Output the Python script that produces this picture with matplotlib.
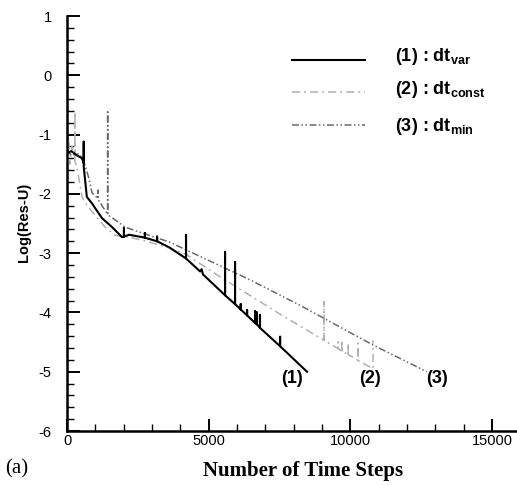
import matplotlib
matplotlib.use("Agg")
import matplotlib.pyplot as plt
from matplotlib.lines import Line2D
from matplotlib.ticker import MultipleLocator

plt.rcParams["font.family"] = ["Liberation Sans", "DejaVu Sans"]
plt.rcParams["mathtext.fontset"] = "custom"
plt.rcParams["mathtext.rm"] = "Liberation Sans:bold"
plt.rcParams["mathtext.bf"] = "Liberation Sans:bold"
plt.rcParams["mathtext.default"] = "rm"
plt.rcParams["lines.scale_dashes"] = False
plt.rcParams["axes.unicode_minus"] = False

# --- data (spikes given as base/top/base triples) ---
steps_var = [0, 150, 350, 530, 590, 590, 590, 700, 880, 1235, 1590, 1940,
             2010, 2010, 2010, 2190, 2650, 2750, 2750, 2750, 3180, 3180, 3180,
             3600, 4200, 4200, 4200, 4700, 4750, 4800, 5577, 5577, 5577,
             5930, 5930, 5930, 6130, 6130, 6130, 6355, 6355, 6355,
             6640, 6640, 6640, 6700, 6700, 6700, 6810, 6810, 6810,
             7520, 7520, 7520, 8470]
res_var = [-1.31, -1.28, -1.35, -1.40, -1.48, -1.12, -1.54, -2.05, -2.16,
           -2.41, -2.56, -2.73, -2.72, -2.58, -2.72, -2.69, -2.73, -2.74,
           -2.66, -2.74, -2.80, -2.72, -2.80, -2.90, -3.09, -2.69, -3.09,
           -3.31, -3.27, -3.36, -3.71, -2.98, -3.71, -3.86, -3.15, -3.86,
           -3.95, -3.86, -3.95, -4.05, -3.96, -4.05, -4.18, -3.98, -4.18,
           -4.20, -4.00, -4.20, -4.26, -4.04, -4.26, -4.57, -4.41, -4.57,
           -5.00]

steps_const = [0, 60, 100, 180, 280, 280, 280, 350, 530, 700, 990, 1340,
               1700, 2190, 2650, 3600, 4200, 5400, 7520, 9070, 9070, 9070,
               9570, 9570, 9570, 9700, 9700, 9700, 9920, 9920, 9920,
               10270, 10270, 10270, 10800, 10800]
res_const = [-1.29, -1.05, -1.50, -1.20, -1.40, -0.62, -1.45, -1.55, -2.05,
             -2.19, -2.36, -2.56, -2.70, -2.73, -2.78, -2.91, -3.02, -3.40,
             -4.03, -4.47, -3.82, -4.47, -4.61, -4.50, -4.61, -4.65, -4.47,
             -4.65, -4.71, -4.52, -4.71, -4.81, -4.52, -4.81, -4.95, -4.47]

steps_min = [0, 150, 420, 600, 780, 880, 1095, 1095, 1095, 1130, 1410, 1435,
             1435, 1435, 1700, 2050, 2650, 3600, 6460, 8224, 10800, 12700]
res_min = [-1.25, -1.35, -1.32, -1.46, -1.75, -1.98, -2.08, -1.94, -2.08,
           -2.12, -2.33, -2.35, -0.59, -2.35, -2.44, -2.56, -2.66, -2.81,
           -3.45, -3.88, -4.55, -5.00]

legend_labels = [r"(1) : dt$_{\rm var}$", r"(2) : dt$_{\rm const}$",
                 r"(3) : dt$_{\rm min}$"]
curve_tags = ["(1)", "(2)", "(3)"]
tag_steps = [7940, 10700, 13060]
tag_res = -5.11

W, H = 517, 486
fig = plt.figure(figsize=(W / 100, H / 100), dpi=100)
ax = fig.add_axes([67 / W, 1 - 431 / H, 1 - 67 / W, (431 - 16) / H])

c_var, c_const, c_min = "black", "#b0b0b0", "#6a6a6a"
ls_const = (0, (5.8, 2.9, 1.4, 2.9))
ls_min = (0, (5.0, 1.8, 1.1, 1.8, 1.1, 1.8))

ax.plot(steps_const, res_const, color=c_const, lw=1.1, ls=ls_const)
ax.plot(steps_min, res_min, color=c_min, lw=1.1, ls=ls_min)
ax.plot(steps_var, res_var, color=c_var, lw=1.5)

for x, t in zip(tag_steps, curve_tags):
    ax.text(x, tag_res, t, ha="center", va="center", fontsize=13,
            fontweight="bold")

ax.set_xlim(0, 15880)
ax.set_ylim(-6, 1)
ax.xaxis.set_major_locator(MultipleLocator(5000))
ax.xaxis.set_minor_locator(MultipleLocator(1000))
ax.yaxis.set_major_locator(MultipleLocator(1))
ax.yaxis.set_minor_locator(MultipleLocator(0.2))
ax.tick_params(which="both", direction="in", top=False, right=False,
               labelsize=10.5)
ax.tick_params(which="major", length=9, width=1.4)
ax.tick_params(which="minor", length=5, width=1.0)
ax.tick_params(axis="y", pad=11)
ax.tick_params(axis="x", pad=2)
for s in ["top", "right"]:
    ax.spines[s].set_visible(False)
for s in ["left", "bottom"]:
    ax.spines[s].set_linewidth(1.8)

# legend drawn by hand
styles = [(c_var, 1.5, "-"), (c_const, 1.1, ls_const), (c_min, 1.1, ls_min)]
line_y = [60, 92, 125]
text_y = [61, 94, 131]
for (c, lw, ls), ly, ty, lab in zip(styles, line_y, text_y, legend_labels):
    fig.add_artist(Line2D([292 / W, 365 / W], [1 - ly / H, 1 - ly / H],
                          color=c, lw=lw, ls=ls))
    fig.text(395 / W, 1 - ty / H, lab, fontsize=13, fontweight="bold",
             ha="left", va="baseline")

fig.text(24 / W, 1 - 222 / H, "Log(Res-U)", rotation=90, fontsize=10.5,
         fontweight="bold", ha="center", va="center")
fig.text(303 / W, 1 - 471 / H, "Number of Time Steps", fontsize=15,
         fontweight="bold", family="Liberation Serif", ha="center",
         va="center")
fig.text(5 / W, 1 - 469 / H, "(a)", fontsize=15, family="Liberation Serif",
         ha="left", va="center")

fig.savefig("out.png", dpi=100)
